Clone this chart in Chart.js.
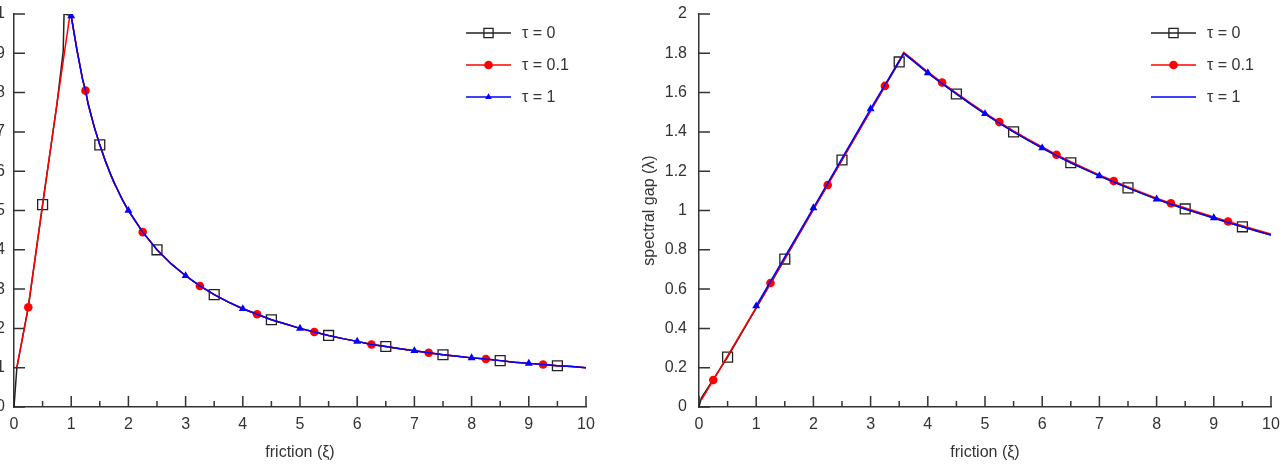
<!DOCTYPE html>
<html><head><meta charset="utf-8">
<script src="https://cdn.jsdelivr.net/npm/chart.js@4/dist/chart.umd.min.js"></script>
<style>
html,body{margin:0;padding:0;background:#fff;overflow:hidden;width:1281px;height:470px;}
#wrap{position:relative;width:1281px;height:470px;overflow:hidden;background:#fff;}
#lw{position:absolute;left:-60px;top:0;width:700px;height:470px;}
#rw{position:absolute;left:640px;top:0;width:700px;height:470px;}
canvas{display:block;}
</style></head><body>
<div id="wrap">
<div id="lw"><canvas id="left" width="700" height="470" style="width:700px;height:470px"></canvas></div>
<div id="rw"><canvas id="right" width="700" height="470" style="width:700px;height:470px"></canvas></div>
</div>
<script>
// ---------- data ----------
const seriesLabels = ['τ = 0', 'τ = 0.1', 'τ = 1'];
const xAxisTitle = 'friction (ξ)';
const yAxisTitle = 'spectral gap (λ)';

// left panel
const L_tau0_riseX  = [0, 0.05, 0.25, 0.5, 0.75, 0.86, 0.875, 0.98];
const L_tau0_riseY  = [0, 0.10, 0.254, 0.515, 0.77, 0.905, 1.0, 0.997];
const L_tau01_riseX = [0.05, 0.25, 0.5, 0.75, 0.97];
const L_tau01_riseY = [0.10, 0.254, 0.515, 0.77, 0.99];
const L_fallX = [1, 1.1, 1.2, 1.25, 1.3, 1.4, 1.5, 1.6, 1.7, 1.75, 1.8, 1.9, 2,
  2.25, 2.5, 2.75, 3, 3.25, 3.5, 3.75, 4, 4.25, 4.5, 4.75, 5, 5.25, 5.5, 5.75, 6,
  6.25, 6.5, 6.75, 7, 7.25, 7.5, 7.75, 8, 8.25, 8.5, 8.75, 9, 9.25, 9.5, 9.75, 10];
const L_fallY = [0.995, 0.909, 0.833, 0.805, 0.769, 0.714, 0.667, 0.625, 0.588, 0.571, 0.556, 0.526, 0.5,
  0.445, 0.4, 0.364, 0.334, 0.308, 0.286, 0.267, 0.25, 0.236, 0.222, 0.211, 0.2, 0.191, 0.182, 0.174, 0.167,
  0.159, 0.154, 0.148, 0.143, 0.138, 0.133, 0.129, 0.125, 0.122, 0.118, 0.114, 0.111, 0.108, 0.105, 0.103, 0.1];

// right panel
const R_tau0_riseX  = [0, 0.04, 0.5, 1.5, 2.5, 3.5];
const R_tau0_riseY  = [0, 0.045, 0.254, 0.753, 1.257, 1.756];
const R_tau01_riseX = [0.04, 0.25, 1.25, 2.25, 3.25];
const R_tau01_riseY = [0.035, 0.137, 0.631, 1.13, 1.634];
const R_tau1_riseX  = [1, 2, 3];
const R_tau1_riseY  = [0.514, 1.013, 1.517];
const R_fallX = [3.58, 3.75, 4, 4.25, 4.5, 4.75, 5, 5.25, 5.5, 5.75, 6, 6.25, 6.5, 6.75,
  7, 7.25, 7.5, 7.75, 8, 8.25, 8.5, 8.75, 9, 9.25, 9.5, 9.75, 10];
const R_fallY = [1.8, 1.76, 1.70, 1.646, 1.593, 1.541, 1.492, 1.445, 1.40, 1.358, 1.318, 1.279, 1.243, 1.209,
  1.176, 1.145, 1.115, 1.086, 1.058, 1.032, 1.008, 0.985, 0.962, 0.939, 0.917, 0.896, 0.875];
const R_fallY_tau01 = [1.805, 1.765, 1.705, 1.651, 1.598, 1.546, 1.497, 1.45, 1.405, 1.363, 1.323, 1.284, 1.248, 1.214,
  1.181, 1.15, 1.12, 1.091, 1.063, 1.037, 1.013, 0.99, 0.967, 0.944, 0.922, 0.901, 0.88];

// marker positions along each curve
const markers_tau0  = [0.5, 1.5, 2.5, 3.5, 4.5, 5.5, 6.5, 7.5, 8.5, 9.5];
const markers_tau01 = [0.25, 1.25, 2.25, 3.25, 4.25, 5.25, 6.25, 7.25, 8.25, 9.25];
const markers_tau1  = [1, 2, 3, 4, 5, 6, 7, 8, 9];

// ---------- helpers ----------
const pts = (xs, ys) => xs.map((x, i) => ({x: x, y: ys[i]}));
const TXT = '#333333';
Chart.defaults.font.family = "'Liberation Sans', Arial, sans-serif";
Chart.defaults.font.size = 16;
Chart.defaults.color = TXT;

const styles = [
  {color: '#222222', pointStyle: 'rect', radius: 7, fill: 'rgba(0,0,0,0)', pbw: 1.3, order: 3},
  {color: '#ff0000', pointStyle: 'circle', radius: 4.3, fill: '#ff0000', pbw: 0, order: 2},
  {color: '#0000ff', pointStyle: 'triangle', radius: 4.6, fill: '#0000ff', pbw: 0, order: 1}
];

function makeDataset(i, data, marks, legendMarker) {
  const s = styles[i];
  return {
    label: seriesLabels[i],
    data: data,
    markers: marks,
    legendMarker: legendMarker,
    borderColor: s.color,
    borderWidth: 1.5,
    tension: 0,
    order: s.order,
    pointStyle: s.pointStyle,
    pointBackgroundColor: s.fill,
    pointBorderColor: s.color,
    pointBorderWidth: s.pbw,
    pointRadius: (ctx) => {
      const r = ctx.raw;
      if (!r) return 0;
      return ctx.dataset.markers.some(m => Math.abs(m - r.x) < 1e-6) ? s.radius : 0;
    },
    pointHoverRadius: 0
  };
}

const gnuTicks = {
  id: 'gnuTicks',
  beforeDatasetsDraw(chart) {
    const {ctx, chartArea: a, scales: {x, y}} = chart;
    ctx.save();
    ctx.strokeStyle = TXT; ctx.lineWidth = 1.5;
    ctx.beginPath();
    x.ticks.forEach((t, i) => {
      const px = x.getPixelForValue(t.value);
      ctx.moveTo(px, a.bottom); ctx.lineTo(px, a.bottom - 11);
      if (i < x.ticks.length - 1) {
        const mx = x.getPixelForValue((t.value + x.ticks[i + 1].value) / 2);
        ctx.moveTo(mx, a.bottom); ctx.lineTo(mx, a.bottom - 6);
      }
    });
    y.ticks.forEach(t => {
      const py = y.getPixelForValue(t.value);
      ctx.moveTo(a.left, py); ctx.lineTo(a.left + 11, py);
    });
    ctx.stroke();
    ctx.restore();
  }
};

function drawMarker(ctx, s, cx, cy, r) {
  ctx.save();
  ctx.fillStyle = s.fill; ctx.strokeStyle = s.color; ctx.lineWidth = s.pbw || 1;
  Chart.helpers.drawPoint(ctx, {pointStyle: s.pointStyle, radius: r, rotation: 0, borderWidth: s.pbw}, cx, cy);
  ctx.restore();
}

const gnuLegend = {
  id: 'gnuLegend',
  afterDatasetsDraw(chart) {
    const {ctx, chartArea: a} = chart;
    chart.data.datasets.forEach((ds, i) => {
      const s = styles[i];
      const yy = a.top + 19 + i * 32;
      const x1 = a.right - 120, x2 = a.right - 75;
      ctx.save();
      ctx.strokeStyle = s.color; ctx.lineWidth = 1.5;
      ctx.beginPath(); ctx.moveTo(x1, yy); ctx.lineTo(x2, yy); ctx.stroke();
      if (ds.legendMarker) drawMarker(ctx, s, (x1 + x2) / 2, yy, i === 0 ? 6.5 : (i === 1 ? 4.3 : 3.8));
      ctx.fillStyle = TXT;
      ctx.font = "16px 'Liberation Sans', Arial, sans-serif";
      ctx.textBaseline = 'middle'; ctx.textAlign = 'left';
      ctx.fillText(ds.label, a.right - 64, yy + 1);
      ctx.restore();
    });
  }
};

const fmt = v => String(+Number(v).toFixed(2));

function makeChart(id, datasets, yMax, yStep, yWidth, padRight, yTickPad, showYTitle) {
  return new Chart(document.getElementById(id), {
    type: 'line',
    data: {datasets: datasets},
    options: {
      responsive: false,
      animation: false,
      events: [],
      layout: {padding: {left: 0, right: padRight, top: 14, bottom: 0}},
      plugins: {legend: {display: false}, tooltip: {enabled: false}},
      scales: {
        x: {
          type: 'linear', min: 0, max: 10,
          ticks: {stepSize: 1, padding: 8, callback: fmt, maxRotation: 0, autoSkip: false},
          grid: {display: false, drawTicks: false},
          border: {display: true, color: TXT, width: 1.5},
          title: {display: true, text: xAxisTitle, padding: {top: 0, bottom: 8}},
          afterFit: s => { s.height = 63; s.paddingLeft = 0; s.paddingRight = 0; }
        },
        y: {
          type: 'linear', min: 0, max: yMax,
          ticks: {stepSize: yStep, padding: yTickPad, callback: fmt, autoSkip: false},
          grid: {display: false, drawTicks: false},
          border: {display: true, color: TXT, width: 1.5},
          title: {display: showYTitle, text: yAxisTitle, padding: {top: 0, bottom: 0}},
          afterFit: s => { s.width = yWidth; s.paddingTop = 0; s.paddingBottom = 0; }
        }
      }
    },
    plugins: [gnuTicks, gnuLegend]
  });
}

// left panel
makeChart('left', [
  makeDataset(0, pts(L_tau0_riseX, L_tau0_riseY).concat(pts(L_fallX, L_fallY)), markers_tau0, true),
  makeDataset(1, pts(L_tau01_riseX, L_tau01_riseY).concat(pts(L_fallX, L_fallY)), markers_tau01, true),
  makeDataset(2, pts(L_fallX, L_fallY), markers_tau1, true)
], 1, 0.1, 74, 54, 9, false);

// right panel
makeChart('right', [
  makeDataset(0, pts(R_tau0_riseX, R_tau0_riseY).concat(pts(R_fallX, R_fallY)), markers_tau0, true),
  makeDataset(1, pts(R_tau01_riseX, R_tau01_riseY).concat(pts(R_fallX, R_fallY_tau01)), markers_tau01, true),
  makeDataset(2, pts(R_tau1_riseX, R_tau1_riseY).concat(pts(R_fallX, R_fallY)), markers_tau1, false)
], 2, 0.2, 59, 69, 12, true);
</script>
</body></html>
